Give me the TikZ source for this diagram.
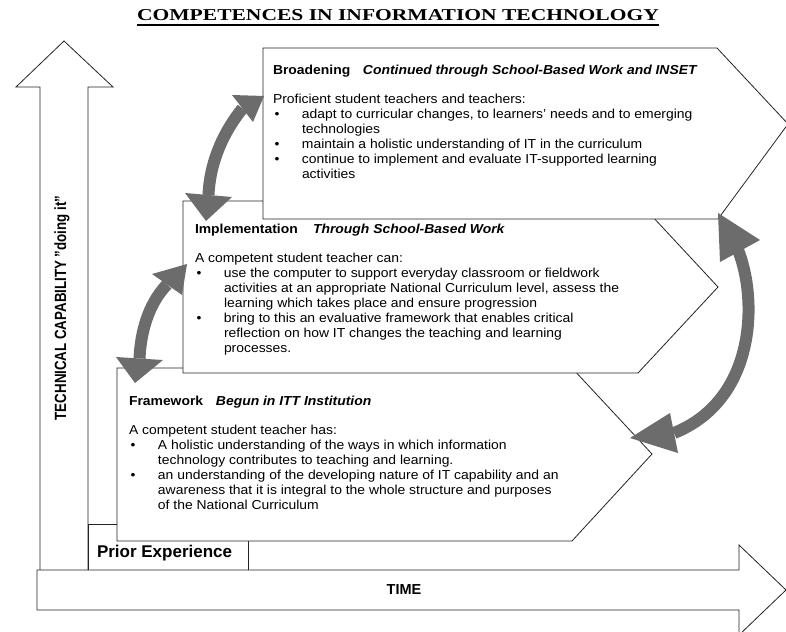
\documentclass[tikz,border=0pt]{standalone}
\usepackage{fontspec}
\setmainfont{Liberation Sans}
\newfontfamily\titlefont{Liberation Serif}

\definecolor{arrowgray}{RGB}{108,108,108}
\definecolor{edge}{RGB}{35,35,35}

\tikzset{
  outline/.style={draw=edge, line width=0.8pt, fill=white},
  bendarrow/.style={draw=arrowgray, line width=12pt, line cap=butt},
  arrowhead/.style={fill=arrowgray},
  boxtext/.style={anchor=base west, inner sep=0pt, outer sep=0pt,
    font=\fontsize{13}{15}\selectfont},
  label/.style={inner sep=0pt, outer sep=0pt},
}

% bullet and continuation indents for the competence lists
\newcommand\itembullet{\makebox[27.1pt][l]{\hspace{1.5pt}\textbullet}}
\newcommand\itemcont{\hspace*{27.1pt}}
% stage text, set slightly wide
\newcommand\stagetext[1]{\scalebox{1.07}[1]{\parbox[t]{470pt}{\raggedright #1}}}

\begin{document}
\begin{tikzpicture}[x=1pt, y=-1pt]
  \useasboundingbox (0,0) rectangle (786,631);
  \clip (0,0) rectangle (786,631);
  \fill[white] (0,0) rectangle (786,631);

  % title
  \node[label, anchor=base, font=\titlefont\bfseries\fontsize{16.6}{18}\selectfont]
    (title) at (398,21) {\scalebox{1.297}[1]{COMPETENCES IN INFORMATION TECHNOLOGY}};
  \draw[line width=1.3pt] ([yshift=-4pt]title.base west) -- ([yshift=-4pt]title.base east);

  % vertical axis arrow
  \draw[outline] (40,570) -- (40,87) -- (16,87) -- (64,41) -- (113,87) -- (88,87) -- (88,570);
  \node[label, rotate=90, font=\bfseries\fontsize{13.3}{15}\selectfont]
    (capability) at (62,308) {\scalebox{1}[1.22]{TECHNICAL CAPABILITY \symbol{"22}doing it\symbol{"22}}};

  % prior experience block
  \node[outline, anchor=north west, minimum width=160pt, minimum height=46pt, inner sep=0pt]
    (prior) at (88,524) {};
  \node[label, anchor=base west, font=\bfseries\fontsize{17}{19}\selectfont]
    (priortext) at (97,557) {Prior Experience};

  % horizontal time arrow
  \draw[outline] (37,570) -- (739,570) -- (739,545) -- (786,590) -- (739,635)
    -- (739,610) -- (37,610) -- cycle;
  \node[label, font=\bfseries\fontsize{14.5}{16}\selectfont] (time) at (404,590) {TIME};

  % framework stage
  \draw[outline] (117,368) -- (572,368) -- (652,454) -- (572,541) -- (117,541) -- cycle;
  \node[boxtext] (framework) at (129,405) {\stagetext{%
    \makebox[81.3pt][l]{\bfseries Framework}\textbf{\textit{Begun in ITT Institution}}\\[14pt]
    A competent student teacher has:\\
    \itembullet A holistic understanding of the ways in which information\\
    \itemcont technology contributes to teaching and learning.\\
    \itembullet an understanding of the developing nature of IT capability and an\\
    \itemcont awareness that it is integral to the whole structure and purposes\\
    \itemcont of the National Curriculum}};

  % implementation stage
  \draw[outline] (183,201) -- (638,201) -- (718,287) -- (638,373) -- (183,373) -- cycle;
  \node[boxtext] (implementation) at (195,233) {\stagetext{%
    \makebox[110.3pt][l]{\bfseries Implementation}\textbf{\textit{Through School-Based Work}}\\[14pt]
    A competent student teacher can:\\
    \itembullet use the computer to support everyday classroom or fieldwork\\
    \itemcont activities at an appropriate National Curriculum level, assess the\\
    \itemcont learning which takes place and ensure progression\\
    \itembullet bring to this an evaluative framework that enables critical\\
    \itemcont reflection on how IT changes the teaching and learning\\
    \itemcont processes.}};

  % broadening stage
  \draw[outline] (263,48) -- (717,48) -- (788,124) -- (718,219) -- (263,219) -- cycle;
  \node[boxtext] (broadening) at (273,75) {\stagetext{%
    \makebox[84.1pt][l]{\bfseries Broadening}\textbf{\textit{Continued through School-Based Work and INSET}}\\[14pt]
    Proficient student teachers and teachers:\\
    \itembullet adapt to curricular changes, to learners' needs and to emerging\\
    \itemcont technologies\\
    \itembullet maintain a holistic understanding of IT in the curriculum\\
    \itembullet continue to implement and evaluate IT-supported learning\\
    \itemcont activities}};

  % curved two-way arrows between the stages
  \draw[bendarrow] (242.5,108.5) .. controls (225,130) and (210,160) .. (208.5,195);
  \fill[arrowhead] (232,95) -- (264,96) -- (253,122) -- cycle;
  \fill[arrowhead] (185,193) -- (206,221) -- (232,197) -- cycle;

  \draw[bendarrow] (167,284.5) .. controls (152,300) and (141,325) .. (139.5,358.5);
  \fill[arrowhead] (152,274) -- (187,264) -- (182,295) -- cycle;
  \fill[arrowhead] (116,357) -- (135,383) -- (163,360) -- cycle;

  \draw[bendarrow] (738,250) .. controls (758,300) and (756,400) .. (674,433);
  \fill[arrowhead] (718,213) -- (760,240) -- (720,262) -- cycle;
  \fill[arrowhead] (670,413) -- (630,438) -- (678,453) -- cycle;
\end{tikzpicture}
\end{document}
